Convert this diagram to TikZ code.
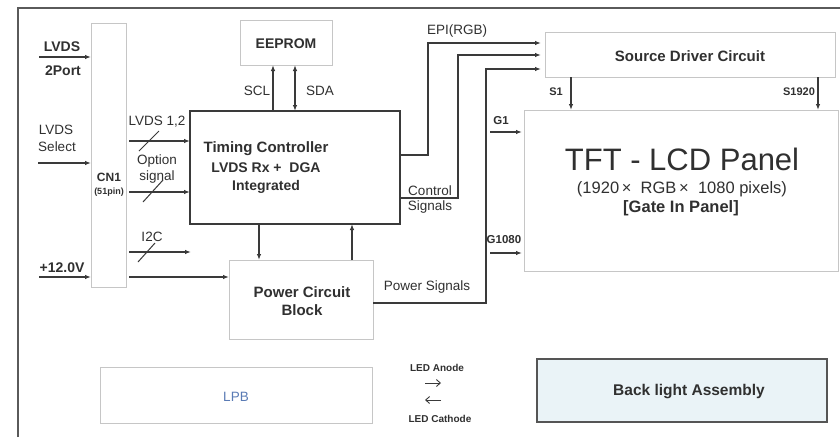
\documentclass[tikz,border=0pt]{standalone}
\usepackage{fontspec}
\setmainfont{Liberation Sans}
\usetikzlibrary{arrows.meta}
\definecolor{ln}{HTML}{3A3A3A}
\definecolor{lbox}{HTML}{C6C6C6}
\definecolor{framec}{HTML}{5A5A5A}
\definecolor{txt}{HTML}{303030}
\definecolor{lpbblue}{HTML}{5A7BB5}
\definecolor{blfill}{HTML}{EAF3F7}
\definecolor{bldraw}{HTML}{555555}
\newcommand{\myfs}[1]{\fontsize{#1}{#1}\selectfont}
\begin{document}
\begin{tikzpicture}[x=1pt,y=-1pt,
  lightbox/.style={draw=lbox, line width=1pt, inner sep=0pt, outer sep=0pt, anchor=north west},
  darkbox/.style={draw=ln, line width=1.6pt, inner sep=0pt, outer sep=0pt, anchor=north west},
  conn/.style={draw=ln, line width=1.3pt, -{Latex[length=6pt,width=4.5pt]}},
  dconn/.style={draw=ln, line width=1.3pt, {Latex[length=6pt,width=4.5pt]}-{Latex[length=6pt,width=4.5pt]}},
  wire/.style={draw=ln, line width=1.3pt},
  slash/.style={draw=ln, line width=1pt},
  openarr/.style={draw=ln, line width=0.9pt, -{Straight Barb[length=4pt,width=7pt]}},
  lbl/.style={text=txt, inner sep=0pt, font=\myfs{13.5}},
  blbl/.style={text=txt, inner sep=0pt, font=\bfseries\myfs{14}},
  sblbl/.style={text=txt, inner sep=0pt, font=\bfseries\myfs{11}}]

\useasboundingbox (0,0) rectangle (840,437);
\fill[white] (0,0) rectangle (840,437);
\draw[framec, line width=2pt] (18,437) -- (18,8) -- (840,8);

% boxes
\node[lightbox, minimum width=35pt, minimum height=264pt] (cn1) at (91,23) {};
\node[darkbox, minimum width=210pt, minimum height=113pt] (tc) at (190,111) {};
\node[lightbox, minimum width=92pt, minimum height=45pt] (eeprom) at (240,20) {};
\node[lightbox, minimum width=144pt, minimum height=79pt] (pwr) at (229,260) {};
\node[lightbox, minimum width=290pt, minimum height=45pt] (sdc) at (545,32) {};
\node[lightbox, minimum width=314pt, minimum height=161pt] (tft) at (524,110) {};
\node[lightbox, minimum width=272pt, minimum height=56pt] (lpb) at (100,367) {};
\node[draw=bldraw, fill=blfill, line width=1.5pt, inner sep=0pt, outer sep=0pt, anchor=north west,
      minimum width=290pt, minimum height=63pt] (bla) at (537,359) {};

% box texts
\node[blbl, font=\bfseries\myfs{12}] (cn1t) at (109,177) {CN1};
\node[blbl, font=\bfseries\myfs{9}] (cn1p) at (109,192) {(51pin)};
\node[blbl, font=\bfseries\myfs{15}] (tc1) at (266,149) {Timing Controller};
\node[blbl] (tc2) at (266,168) {LVDS Rx +\ \ DGA};
\node[blbl] (tc3) at (266,187) {Integrated};
\node[blbl] (eet) at (286,44) {EEPROM};
\node[blbl, font=\bfseries\myfs{15}] (pw1) at (302,292) {Power Circuit};
\node[blbl, font=\bfseries\myfs{15}] (pw2) at (302,310) {Block};
\node[blbl, font=\bfseries\myfs{15}] (sdct) at (690,56) {Source Driver Circuit};
\node[text=txt, inner sep=0pt, font=\myfs{31}] (tft1) at (682,159) {TFT - LCD Panel};
\node[text=txt, inner sep=0pt, font=\myfs{16.5}] (tft2) at (682,189) {(1920\,×\ \ RGB\,×\ \ 1080 pixels)};
\node[blbl, font=\bfseries\myfs{16.5}] (tft3) at (681,208) {[Gate In Panel]};
\node[text=lpbblue, inner sep=0pt, font=\myfs{13.5}] (lpbt) at (236,397) {LPB};
\node[blbl, font=\bfseries\myfs{15.5}] (blat) at (689,392) {Back light Assembly};

% left inputs
\node[blbl] (l1) at (62,47) {LVDS};
\node[blbl] (l2) at (63,71) {2Port};
\node[lbl, align=left] (l3) at (56,130) {LVDS};
\node[lbl] (l4) at (57,147) {Select};
\node[blbl] (l5) at (62,268) {+12.0V};
\coordinate (in1) at (39,57);
\coordinate (in2) at (38,163);
\coordinate (in3) at (39,277);
\draw[conn] (in1) -- (in1 -| cn1.west);
\draw[conn] (in2) -- (in2 -| cn1.west);
\draw[conn] (in3) -- (in3 -| cn1.west);

% CN1 -> TC / Power
\coordinate (a1) at (129,141);
\coordinate (a2) at (129,192);
\coordinate (a3) at (129,252);
\coordinate (a3e) at (191,252);
\coordinate (a4) at (129,277);
\draw[conn] (a1) -- (a1 -| tc.west);
\draw[conn] (a2) -- (a2 -| tc.west);
\draw[conn] (a3) -- (a3e);
\draw[conn] (a4) -- (a4 -| pwr.west);
\draw[slash] (139,151) -- (159,131);
\draw[slash] (143,202) -- (163,180);
\draw[slash] (138,262) -- (155,243);
\node[lbl] (t1) at (157,122) {LVDS 1,2};
\node[lbl] (t2) at (157,161) {Option};
\node[lbl] (t3) at (157,177) {signal};
\node[lbl] (t4) at (152,237) {I2C};

% EEPROM
\coordinate (sclx) at (273,0);
\coordinate (sdax) at (295,0);
\draw[conn] (sclx |- tc.north) -- (sclx |- eeprom.south);
\draw[dconn] (sdax |- tc.north) -- (sdax |- eeprom.south);
\node[lbl] (scl) at (257,91) {SCL};
\node[lbl] (sda) at (320,91) {SDA};

% TC <-> Power
\coordinate (dnx) at (259,0);
\coordinate (upx) at (352,0);
\draw[conn] (dnx |- tc.south) -- (dnx |- pwr.north);
\draw[conn] (upx |- pwr.north) -- (upx |- tc.south);

% outputs to source driver
\coordinate (e1) at (428,155);
\coordinate (e2) at (458,198);
\coordinate (e3) at (486,303);
\coordinate (r1) at (0,43);
\coordinate (r2) at (0,55);
\coordinate (r3) at (0,69);
\draw[conn, shorten >=4pt] (e1 -| tc.east) -- (e1) -- (e1 |- r1) -- (r1 -| sdc.west);
\draw[conn, shorten >=4pt] (e2 -| tc.east) -- (e2) -- (e2 |- r2) -- (r2 -| sdc.west);
\draw[conn, shorten >=4pt] (e3 -| pwr.east) -- (e3) -- (e3 |- r3) -- (r3 -| sdc.west);
\node[lbl] (epi) at (457,31) {EPI(RGB)};
\node[lbl] (cs1) at (430,191) {Control};
\node[lbl] (cs2) at (430,207) {Signals};
\node[lbl] (ps) at (427,287) {Power Signals};

% source driver -> panel
\coordinate (s1x) at (571,0);
\coordinate (s2x) at (818,0);
\draw[conn] (s1x |- sdc.south) -- (s1x |- tft.north);
\draw[conn] (s2x |- sdc.south) -- (s2x |- tft.north);
\node[sblbl] (s1) at (556,92) {S1};
\node[sblbl] (s1920) at (799,92) {S1920};

% gate
\coordinate (g1) at (490,132);
\coordinate (g2) at (490,253);
\draw[conn, shorten >=2pt] (g1) -- (g1 -| tft.west);
\draw[conn, shorten >=2pt] (g2) -- (g2 -| tft.west);
\node[sblbl, font=\bfseries\myfs{11.5}] (g1t) at (501,121) {G1};
\node[sblbl, font=\bfseries\myfs{11.5}] (g2t) at (504,240) {G1080};

% LED
\node[sblbl, font=\bfseries\myfs{10}] (ledA) at (437,368) {LED Anode};
\node[sblbl, font=\bfseries\myfs{10}] (ledC) at (440,419) {LED Cathode};
\coordinate (la1) at (425,383);
\coordinate (la2) at (441,383);
\coordinate (lc1) at (441,400);
\coordinate (lc2) at (425,400);
\draw[openarr] (la1) -- (la2);
\draw[openarr] (lc1) -- (lc2);
\end{tikzpicture}
\end{document}
